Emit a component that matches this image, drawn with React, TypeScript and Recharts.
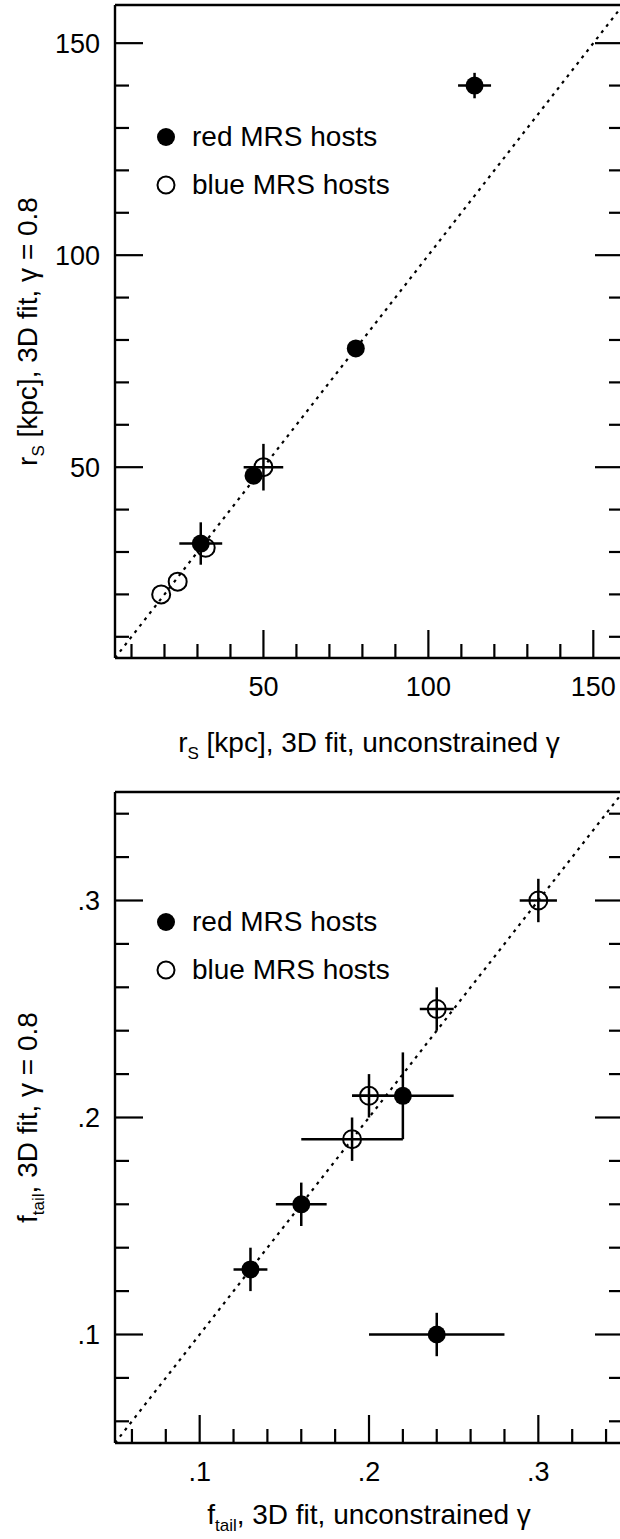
import React from "react";
import { ScatterChart, Scatter, XAxis, YAxis, ErrorBar, ReferenceLine, Legend } from "recharts";

const FONT = '"Liberation Sans", Arial, Helvetica, sans-serif';

// top panel: r_S [kpc]
const rsRedX = [114, 78, 47, 31];
const rsRedY = [140, 78, 48, 32];
const rsRedXErr = [5, 0, 0, 6.5];
const rsRedYErr = [3, 0, 0, 5];
const rsBlueX = [50, 32.5, 24, 19];
const rsBlueY = [50, 31, 23, 20];
const rsBlueXErr = [6, 0, 0, 0];
const rsBlueYErr = [5.5, 0, 0, 0];
const rsTicks = [10, 20, 30, 40, 50, 60, 70, 80, 90, 100, 110, 120, 130, 140, 150];
const rsMajor = [50, 100, 150];
const rsDomain = [5, 159];

// bottom panel: f_tail
const fRedX = [0.22, 0.16, 0.13, 0.24];
const fRedY = [0.21, 0.16, 0.13, 0.1];
const fRedXErr = [0.03, 0.015, 0.01, 0.04];
const fRedYErr = [0.02, 0.01, 0.01, 0.01];
const fBlueX = [0.3, 0.24, 0.2, 0.19];
const fBlueY = [0.3, 0.25, 0.21, 0.19];
const fBlueXErr = [0.011, 0.01, 0.01, 0.03];
const fBlueYErr = [0.01, 0.01, 0.01, 0.01];
const fTicks = [0.06, 0.08, 0.1, 0.12, 0.14, 0.16, 0.18, 0.2, 0.22, 0.24, 0.26, 0.28, 0.3, 0.32, 0.34];
const fMajor = [0.1, 0.2, 0.3];
const fDomain = [0.05, 0.35];

const legendNames = ["red MRS hosts", "blue MRS hosts"];

const zip = (xs: number[], ys: number[], exs: number[], eys: number[]) =>
  xs.map((x, i) => ({ x, y: ys[i], ex: exs[i], ey: eys[i] }));

const fmtPlain = (v: number) => String(v);
const fmtFrac = (v: number) => String(v).replace(/^0/, "");

function makeTick(side: string, majors: number[], fmt?: (v: number) => string) {
  return (props: any) => {
    const { x, y, payload } = props;
    const v = payload.value;
    const major = majors.some((m) => Math.abs(m - v) < 1e-9);
    const len = major ? 28 : 14;
    let line = null;
    let label = null;
    if (side === "bottom") {
      line = <line x1={x} y1={y} x2={x} y2={y - len} />;
      if (major && fmt)
        label = <text x={x} y={y + 38} textAnchor="middle">{fmt(v)}</text>;
    } else if (side === "top") {
      line = <line x1={x} y1={y} x2={x} y2={y + len} />;
    } else if (side === "left") {
      line = <line x1={x} y1={y} x2={x + len} y2={y} />;
      if (major && fmt)
        label = <text x={x - 15} y={y} dy="0.35em" textAnchor="end">{fmt(v)}</text>;
    } else {
      line = <line x1={x} y1={y} x2={x - len} y2={y} />;
    }
    return (
      <g>
        <g stroke="#000" strokeWidth={2.2}>{line}</g>
        {label && <g fill="#000" stroke="none" fontFamily={FONT} fontSize={27}>{label}</g>}
      </g>
    );
  };
}

const filledDot = (p: any) => <circle cx={p.cx} cy={p.cy} r={9} fill="#000" />;
const openDot = (p: any) => (
  <circle cx={p.cx} cy={p.cy} r={9} fill="none" stroke="#000" strokeWidth={2} />
);

function Title({ x, y, main, sub, rest, rotate }: any) {
  return (
    <text
      x={0}
      y={0}
      transform={`translate(${x},${y})${rotate ? " rotate(-90)" : ""}`}
      textAnchor="middle"
      fontFamily={FONT}
      fontSize={28}
      fill="#000"
    >
      {main}
      <tspan fontSize={17} dy={7}>{sub}</tspan>
      <tspan dy={-7}>{rest}</tspan>
    </text>
  );
}

const legendContent = () => (
  <div style={{ fontFamily: FONT, fontSize: 28, color: "#000" }}>
    {legendNames.map((n, i) => (
      <div key={n} style={{ display: "flex", alignItems: "center", height: 48 }}>
        <svg width={20} height={20} style={{ marginRight: 16 }}>
          {i === 0 ? (
            <circle cx={10} cy={10} r={9} fill="#000" />
          ) : (
            <circle cx={10} cy={10} r={8.5} fill="none" stroke="#000" strokeWidth={2} />
          )}
        </svg>
        <span>{n}</span>
      </div>
    ))}
  </div>
);

const axisLine = { stroke: "#000", strokeWidth: 2.4 };

function Panel({ top, height, topPad, bottomPad, domain, ticks, majors, fmt, red, blue, sub, main, xRest, yRest, titleY, legendTop }: any) {
  const plotH = height - topPad - bottomPad;
  const common = {
    type: "number" as const,
    domain,
    ticks,
    interval: 0 as const,
    tickSize: 0,
    tickMargin: 0,
    tickLine: false,
    axisLine,
    allowDataOverflow: true,
  };
  return (
    <div style={{ position: "absolute", left: 0, top }}>
      <ScatterChart width={640} height={height} margin={{ top: 0, right: 0, bottom: 0, left: 0 }}>
        <XAxis
          {...common}
          xAxisId="b"
          orientation="bottom"
          dataKey="x"
          height={bottomPad}
          tick={makeTick("bottom", majors, fmt)}
          label={() => <Title x={369} y={titleY} main={main} sub={sub} rest={xRest} />}
        />
        <XAxis {...common} xAxisId="t" orientation="top" height={topPad} tick={makeTick("top", majors)} />
        <YAxis
          {...common}
          yAxisId="l"
          orientation="left"
          dataKey="y"
          width={115}
          tick={makeTick("left", majors, fmt)}
          label={() => (
            <Title x={37} y={topPad + plotH / 2} main={main} sub={sub} rest={yRest} rotate />
          )}
        />
        <YAxis {...common} yAxisId="r" orientation="right" width={17} tick={makeTick("right", majors)} />
        <ReferenceLine
          xAxisId="b"
          yAxisId="l"
          segment={[
            { x: domain[0], y: domain[0] },
            { x: domain[1], y: domain[1] },
          ]}
          stroke="#000"
          strokeWidth={2.2}
          strokeDasharray="3 5"
        />
        <Scatter xAxisId="b" yAxisId="l" name={legendNames[1]} data={blue} shape={openDot} isAnimationActive={false}>
          <ErrorBar dataKey="ex" direction="x" width={0} stroke="#000" strokeWidth={2.5} isAnimationActive={false} />
          <ErrorBar dataKey="ey" direction="y" width={0} stroke="#000" strokeWidth={2.5} isAnimationActive={false} />
        </Scatter>
        <Scatter xAxisId="b" yAxisId="l" name={legendNames[0]} data={red} shape={filledDot} isAnimationActive={false}>
          <ErrorBar dataKey="ex" direction="x" width={0} stroke="#000" strokeWidth={2.5} isAnimationActive={false} />
          <ErrorBar dataKey="ey" direction="y" width={0} stroke="#000" strokeWidth={2.5} isAnimationActive={false} />
        </Scatter>
        <Legend
          layout="vertical"
          align="center"
          verticalAlign="middle"
          content={legendContent}
          wrapperStyle={{ left: 156, top: legendTop, width: 320, height: 96 }}
        />
      </ScatterChart>
    </div>
  );
}

export default function App() {
  return (
    <div
      style={{
        position: "absolute",
        left: 0,
        top: 0,
        width: 620,
        height: 1539,
        overflow: "hidden",
        background: "#fff",
      }}
    >
      <Panel
        top={0}
        height={780}
        topPad={5}
        bottomPad={122}
        domain={rsDomain}
        ticks={rsTicks}
        majors={rsMajor}
        fmt={fmtPlain}
        red={zip(rsRedX, rsRedY, rsRedXErr, rsRedYErr)}
        blue={zip(rsBlueX, rsBlueY, rsBlueXErr, rsBlueYErr)}
        main="r"
        sub="S"
        xRest=" [kpc], 3D fit, unconstrained γ"
        yRest=" [kpc], 3D fit, γ = 0.8"
        titleY={752}
        legendTop={113}
      />
      <Panel
        top={780}
        height={759}
        topPad={12}
        bottomPad={96}
        domain={fDomain}
        ticks={fTicks}
        majors={fMajor}
        fmt={fmtFrac}
        red={zip(fRedX, fRedY, fRedXErr, fRedYErr)}
        blue={zip(fBlueX, fBlueY, fBlueXErr, fBlueYErr)}
        main="f"
        sub="tail"
        xRest=", 3D fit, unconstrained γ"
        yRest=", 3D fit, γ = 0.8"
        titleY={744}
        legendTop={118}
      />
    </div>
  );
}
